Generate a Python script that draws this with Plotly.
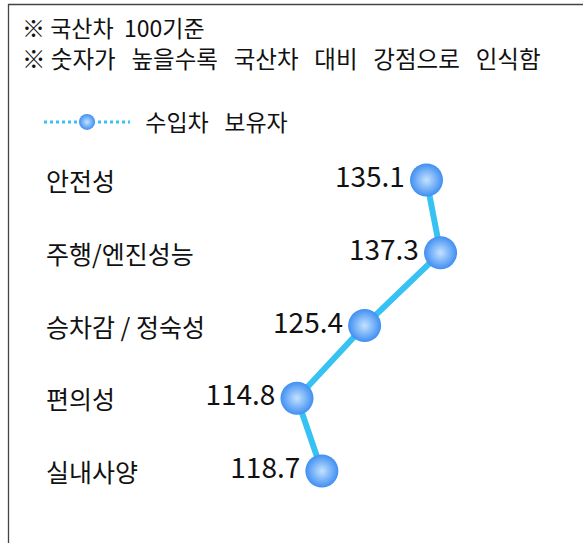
import plotly.graph_objects as go

categories = ["안전성", "주행/엔진성능", "승차감 / 정숙성", "편의성", "실내사양"]
values = [135.1, 137.3, 125.4, 114.8, 118.7]
series_name = "수입차 보유자"
notes = [["※", "국산차", "100기준"],
         ["※", "숫자가", "높을수록", "국산차", "대비", "강점으로", "인식함"]]

W, H = 583, 543
FONT = "Noto Sans CJK KR, Malgun Gothic, sans-serif"
LINE_C = "#36c2f2"
MARK_C = "#3f8ff2"
MARK_HI = "#c4e2ff"
NB = "\u00a0"


def join_words(words, gap):
    return words[0] + " " + (NB * gap).join(words[1:])


idx = list(range(len(categories)))

fig = go.Figure()
fig.add_trace(go.Scatter(
    x=values, y=idx, mode="lines+markers+text",
    text=[f"{v:.1f}" for v in values], textposition="middle left",
    textfont=dict(size=28, color="#111111", family=FONT),
    line=dict(color=LINE_C, width=6),
    marker=dict(size=33, color=MARK_C, line=dict(width=0),
                gradient=dict(type="radial", color=MARK_HI)),
    showlegend=False, cliponaxis=False, hoverinfo="skip",
))
fig.add_trace(go.Scatter(
    x=[None], y=[None], mode="lines+markers",
    name=NB * 2 + series_name.replace(" ", NB * 3),
    line=dict(color=LINE_C, width=3, dash="dot"),
    marker=dict(size=33, color=MARK_C, line=dict(width=0),
                gradient=dict(type="radial", color=MARK_HI)),
    showlegend=True,
))

# axis scaling (pixel placement of the plotting area)
ppu = 6.38
x0 = 114.8 - 297 / ppu
x1 = x0 + W / ppu
row0, step = 180, 72.75
y_top = (0 - row0) / step
y_bot = (H - row0) / step

fig.update_xaxes(range=[x0, x1], visible=False, domain=[0, 1])
fig.update_yaxes(range=[y_bot, y_top], visible=False, domain=[0, 1])

for i, c in enumerate(categories):
    fig.add_annotation(x=44 / W, xref="paper", y=i, yref="y", text=c,
                       showarrow=False, xanchor="left", yanchor="middle",
                       font=dict(size=25, color="#111111", family=FONT))

for j, words in enumerate(notes):
    fig.add_annotation(x=20 / W, xref="paper", y=1 - (27 + j * 31) / H, yref="paper",
                       text=join_words(words, 2 if j == 0 else 3), showarrow=False,
                       xanchor="left", yanchor="middle",
                       font=dict(size=23.5 if j else 23, color="#111111", family=FONT))

fig.add_shape(type="rect", xref="paper", yref="paper",
              x0=8.5 / W, x1=1.05, y0=-0.05, y1=1 - 4.5 / H,
              line=dict(color="#444444", width=1.3), fillcolor="rgba(0,0,0,0)")

fig.update_layout(
    width=W, height=H, margin=dict(l=0, r=0, t=0, b=0),
    paper_bgcolor="white", plot_bgcolor="white",
    font=dict(family=FONT, color="#111111"),
    legend=dict(x=39 / W, y=1 - 122 / H, xanchor="left", yanchor="middle",
                font=dict(size=23, family=FONT), itemwidth=86,
                bgcolor="rgba(0,0,0,0)"),
)

fig.write_html("out.html", config={"displayModeBar": False},
               post_script="document.body.style.margin='0';document.body.style.overflow='hidden';")
